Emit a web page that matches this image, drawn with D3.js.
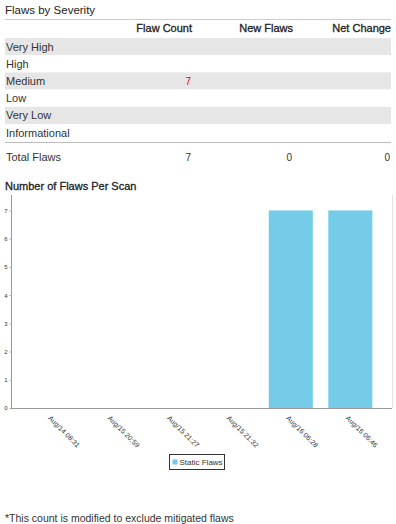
<html>
<head>
    <script src="https://d3js.org/d3.v7.min.js"></script>
    <style>
        body { margin: 0; background: #fff; }
        text { font-family: "Liberation Sans", Arial, sans-serif; fill: #333; }
    </style>
</head>
<body>
    <svg id="page"></svg>
    <script>
        // severity table
        var severities = ["Very High", "High", "Medium", "Low", "Very Low", "Informational"];
        var flawCounts = ["", "", "7", "", "", ""];
        var newFlaws   = ["", "", "", "", "", ""];
        var netChange  = ["", "", "", "", "", ""];
        var columns = ["Flaw Count", "New Flaws", "Net Change"];
        var totals = ["7", "0", "0"];

        // bar chart
        var scans = ["Aug/14 08:31", "Aug/15 20:59", "Aug/15 21:27", "Aug/15 21:32", "Aug/16 06:28", "Aug/16 06:46"];
        var staticFlaws = [0, 0, 0, 0, 7, 7];
        var yTicks = [0, 1, 2, 3, 4, 5, 6, 7];

        var W = 396, H = 524;
        var svg = d3.select("#page").attr("width", W).attr("height", H);

        // ---- table ----
        var colRight = [192, 293, 391];
        var rowTop = 38, rowH = 17.2;

        svg.append("text").attr("x", 5).attr("y", 14)
            .style("font-size", "11.5px").style("fill", "#222").text("Flaws by Severity");
        svg.append("line").attr("x1", 5).attr("x2", 391).attr("y1", 19.5).attr("y2", 19.5)
            .attr("stroke", "#ccc");

        svg.selectAll(".colhead").data(columns).enter()
            .append("text").attr("class", "colhead")
            .attr("x", function(d, i){ return colRight[i]; })
            .attr("y", 32)
            .attr("text-anchor", "end")
            .style("font-size", "11px")
            .style("fill", "#222")
            .style("stroke", "#222").style("stroke-width", "0.3px")
            .text(function(d){ return d; });

        var rows = svg.selectAll(".row").data(severities).enter()
            .append("g").attr("class", "row")
            .attr("transform", function(d, i){ return "translate(0," + (rowTop + i * rowH) + ")"; });

        rows.append("rect")
            .attr("x", 5).attr("width", 386).attr("height", rowH)
            .attr("fill", function(d, i){ return i % 2 === 0 ? "#e6e6e6" : "#fff"; });

        rows.append("text").attr("x", 6).attr("y", 12.5)
            .style("font-size", "11px").text(function(d){ return d; });

        rows.each(function(d, i){
            var g = d3.select(this);
            [flawCounts[i], newFlaws[i], netChange[i]].forEach(function(v, j){
                g.append("text").attr("x", colRight[j] - 1).attr("y", 12.5)
                    .attr("text-anchor", "end")
                    .style("font-size", "10px")
                    .style("fill", "#e00")
                    .text(v);
            });
        });

        svg.append("line").attr("x1", 5).attr("x2", 391).attr("y1", 142.5).attr("y2", 142.5)
            .attr("stroke", "#bbb");

        svg.append("text").attr("x", 6).attr("y", 161)
            .style("font-size", "11px").text("Total Flaws");
        svg.selectAll(".total").data(totals).enter()
            .append("text").attr("class", "total")
            .attr("x", function(d, i){ return colRight[i] - 1; })
            .attr("y", 161)
            .attr("text-anchor", "end")
            .style("font-size", "10px")
            .text(function(d){ return d; });

        // ---- chart ----
        svg.append("text").attr("x", 5).attr("y", 190)
            .style("font-size", "11px").style("fill", "#222")
            .style("stroke", "#222").style("stroke-width", "0.3px")
            .text("Number of Flaws Per Scan");

        var plot = { left: 11, right: 392, top: 200, bottom: 408 };

        var x = d3.scaleBand()
            .domain(scans)
            .range([plot.left, plot.right])
            .paddingInner(0.26)
            .paddingOuter(0.33);

        var y = d3.scaleLinear()
            .domain([0, 7.05])
            .range([plot.bottom, plot.top + 9]);

        svg.append("line").attr("x1", plot.right + 0.5).attr("x2", plot.right + 0.5)
            .attr("y1", plot.top - 5).attr("y2", plot.bottom)
            .attr("stroke", "#e2e2e2");

        svg.selectAll(".bar").data(staticFlaws).enter()
            .append("rect").attr("class", "bar")
            .attr("x", function(d, i){ return x(scans[i]); })
            .attr("width", x.bandwidth())
            .attr("y", function(d){ return y(d); })
            .attr("height", function(d){ return plot.bottom - y(d); })
            .attr("fill", "#74cce8");

        var yAxis = svg.append("g")
            .attr("transform", "translate(" + (plot.left + 0.5) + ",0)")
            .call(d3.axisLeft(y).tickValues(yTicks).tickFormat(d3.format("d")).tickSize(2).tickPadding(2));
        yAxis.select(".domain").attr("d", "M0," + (plot.top - 5) + "V" + plot.bottom).attr("stroke", "#999");
        yAxis.selectAll(".tick line").attr("stroke", "#aaa");
        yAxis.selectAll(".tick text").style("font-size", "6px").attr("fill", "#555");

        var xAxis = svg.append("g")
            .attr("transform", "translate(0," + (plot.bottom + 0.5) + ")")
            .call(d3.axisBottom(x).tickSize(0).tickPadding(0));
        xAxis.select(".domain").attr("d", "M" + plot.left + ",0H" + plot.right).attr("stroke", "#999");
        xAxis.selectAll(".tick text")
            .style("font-size", "7px")
            .attr("fill", "#444")
            .attr("text-anchor", "start")
            .attr("dy", "0")
            .attr("transform", "translate(-5,10) rotate(45)");

        // legend
        var lg = svg.append("g").attr("transform", "translate(169.5,454.5)");
        lg.append("rect").attr("width", 55).attr("height", 15)
            .attr("fill", "#fff").attr("stroke", "#333");
        lg.append("rect").attr("x", 3).attr("y", 5).attr("width", 5).attr("height", 5)
            .attr("fill", "#74cce8");
        lg.append("text").attr("x", 10).attr("y", 10.5)
            .style("font-size", "8px").text("Static Flaws");

        svg.append("text").attr("x", 5).attr("y", 522)
            .style("font-size", "10.5px").text("*This count is modified to exclude mitigated flaws");
    </script>
</body>
</html>
